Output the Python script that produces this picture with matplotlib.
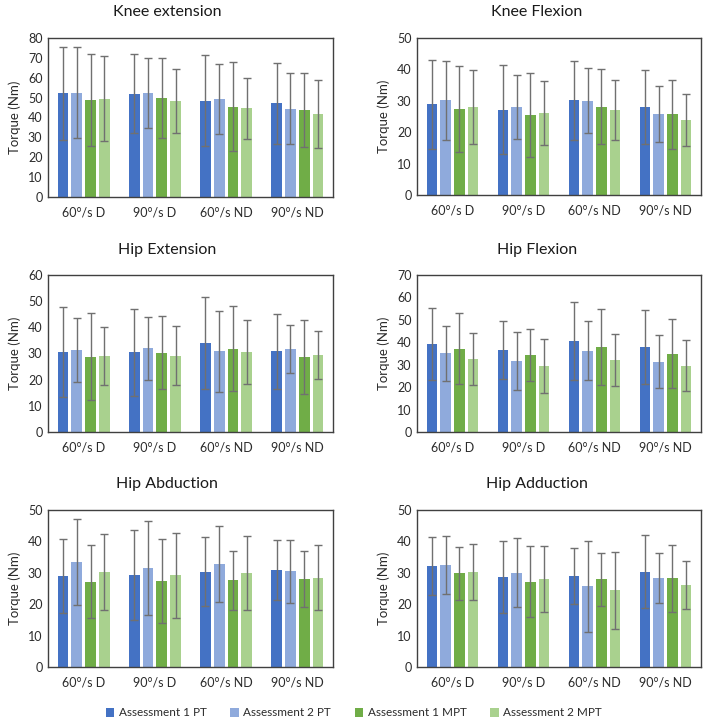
import matplotlib
matplotlib.use("Agg")
import matplotlib.pyplot as plt
import numpy as np
from matplotlib.patches import Patch

plt.rcParams['font.family'] = ['Lato', 'DejaVu Sans']

categories = ["60°/s D", "90°/s D", "60°/s ND", "90°/s ND"]
series_names = ["Assessment 1 PT", "Assessment 2 PT", "Assessment 1 MPT", "Assessment 2 MPT"]
colors = ["#4472C4", "#8FAADC", "#70AD47", "#A9D18E"]

# Means (rows = series, cols = categories) and SD
knee_ext_mean = [[52.2, 52.0, 48.5, 47.1],
                 [52.5, 52.2, 49.2, 44.5],
                 [49.0, 49.7, 45.5, 44.0],
                 [49.5, 48.3, 44.6, 41.8]]
knee_ext_sd = [[23.4, 20.0, 22.9, 20.2],
               [23.0, 17.6, 17.5, 18.0],
               [23.1, 20.0, 22.5, 18.6],
               [21.3, 16.3, 15.2, 16.9]]

knee_flex_mean = [[28.9, 27.2, 30.2, 28.1],
                  [30.1, 28.0, 30.0, 25.9],
                  [27.4, 25.4, 28.1, 25.7],
                  [28.1, 26.1, 27.1, 23.9]]
knee_flex_sd = [[14.1, 14.1, 12.6, 11.8],
                [12.6, 10.3, 10.4, 8.9],
                [13.7, 13.4, 12.0, 11.0],
                [11.8, 10.2, 9.5, 8.3]]

hip_ext_mean = [[30.5, 30.5, 34.1, 30.8],
                [31.3, 32.0, 30.8, 31.8],
                [28.7, 30.3, 31.9, 28.7],
                [29.1, 29.2, 30.5, 29.5]]
hip_ext_sd = [[17.2, 16.6, 17.5, 14.4],
              [12.1, 12.1, 15.4, 9.1],
              [16.6, 14.0, 16.2, 14.0],
              [11.1, 11.2, 12.3, 9.1]]

hip_flex_mean = [[39.4, 36.6, 40.6, 37.8],
                 [35.1, 31.7, 36.2, 31.3],
                 [37.2, 34.3, 38.0, 34.9],
                 [32.5, 29.5, 32.0, 29.5]]
hip_flex_sd = [[16.0, 13.1, 17.3, 16.4],
               [12.2, 12.9, 13.2, 11.9],
               [15.9, 11.6, 17.0, 15.5],
               [11.5, 11.9, 11.6, 11.4]]

hip_abd_mean = [[29.1, 29.3, 30.4, 30.9],
                [33.3, 31.6, 32.7, 30.5],
                [27.2, 27.3, 27.6, 28.1],
                [30.2, 29.2, 29.9, 28.4]]
hip_abd_sd = [[11.8, 14.4, 10.9, 9.5],
              [13.7, 14.9, 12.1, 10.0],
              [11.5, 13.4, 9.3, 9.0],
              [12.1, 13.5, 11.8, 10.4]]

hip_add_mean = [[32.2, 28.7, 29.0, 30.4],
                [32.5, 30.0, 25.7, 28.3],
                [29.8, 27.2, 27.9, 28.3],
                [30.2, 27.9, 24.4, 26.2]]
hip_add_sd = [[9.2, 11.5, 9.0, 11.5],
              [9.2, 11.0, 14.4, 7.9],
              [8.4, 11.3, 8.5, 10.7],
              [9.0, 10.5, 12.2, 7.6]]

titles = ["Knee extension", "Knee Flexion", "Hip Extension", "Hip Flexion", "Hip Abduction", "Hip Adduction"]
means = [knee_ext_mean, knee_flex_mean, hip_ext_mean, hip_flex_mean, hip_abd_mean, hip_add_mean]
sds = [knee_ext_sd, knee_flex_sd, hip_ext_sd, hip_flex_sd, hip_abd_sd, hip_add_sd]
ymaxes = [80, 50, 60, 70, 50, 50]

W, H = 708, 725
fig = plt.figure(figsize=(W / 100, H / 100), dpi=100)

# pixel boxes: (left, right, top, bottom)
boxes = [(48, 333, 38, 197), (417, 701, 38, 195),
         (48, 333, 275, 432), (417, 701, 275, 432),
         (48, 333, 510, 667), (417, 701, 510, 667)]
title_pos = [(167, 12), (537, 12), (167, 250), (537, 250), (167, 484), (537, 484)]

x = np.arange(len(categories))
bw = 0.15
step = 0.193
offsets = (np.arange(4) - 1.5) * step

for i in range(6):
    l, r, t, b = boxes[i]
    ax = fig.add_axes([l / W, 1 - b / H, (r - l) / W, (b - t) / H])
    for s in range(4):
        ax.bar(x + offsets[s], means[i][s], width=bw, color=colors[s],
               yerr=sds[i][s], error_kw=dict(ecolor="#707070", elinewidth=1.0,
                                             capsize=3, capthick=1.0),
               zorder=2)
    ax.set_xlim(-0.5, 3.5)
    ax.set_ylim(0, ymaxes[i])
    ax.set_yticks(np.arange(0, ymaxes[i] + 1, 10))
    ax.set_xticks(x)
    ax.set_xticklabels(categories)
    ax.tick_params(length=0, labelsize=9, colors="#2b2b2b", pad=7)
    ax.tick_params(axis='y', pad=4)
    for sp in ax.spines.values():
        sp.set_color("#404040")
        sp.set_linewidth(1.0)
    ax.set_ylabel("Torque (Nm)", fontsize=9.5, color="#2b2b2b", labelpad=5)
    tx, ty = title_pos[i]
    fig.text(tx / W, 1 - ty / H, titles[i], ha="center", va="center",
             fontsize=11.5, color="#1a1a1a")

handles = [Patch(facecolor=c, edgecolor='none') for c in colors]
fig.legend(handles, series_names, loc="center", bbox_to_anchor=(354 / W, 1 - 713 / H),
           ncol=4, frameon=False, fontsize=8.5, handlelength=0.7, handleheight=0.7,
           columnspacing=2.0, handletextpad=0.4, labelcolor="#2b2b2b")

fig.savefig("out.png", dpi=100)
